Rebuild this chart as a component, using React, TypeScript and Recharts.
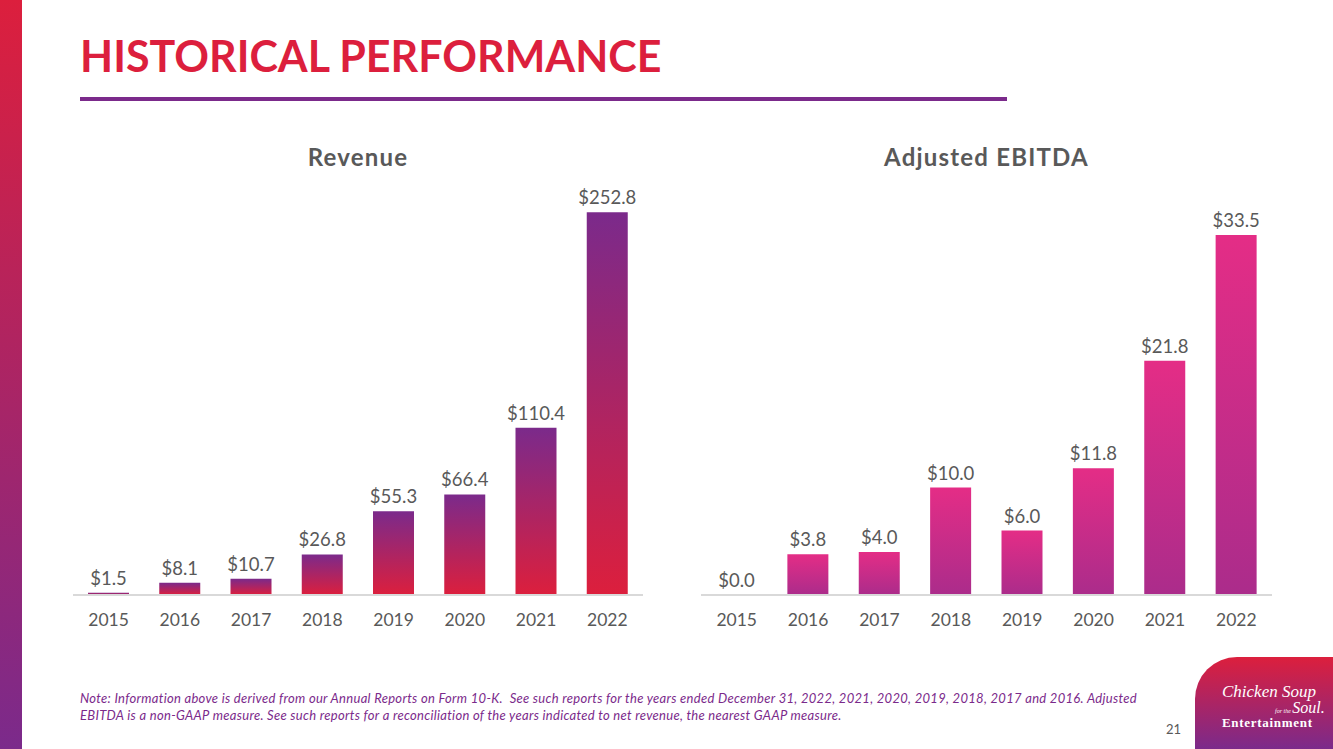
import { BarChart, Bar, XAxis, YAxis, LabelList } from 'recharts'

const years = ['2015', '2016', '2017', '2018', '2019', '2020', '2021', '2022']
const revenue = [1.5, 8.1, 10.7, 26.8, 55.3, 66.4, 110.4, 252.8]
const ebitda = [0.0, 3.8, 4.0, 10.0, 6.0, 11.8, 21.8, 33.5]

const revenueData = years.map((year, i) => ({ year, value: revenue[i] }))
const ebitdaData = years.map((year, i) => ({ year, value: ebitda[i] }))

const RED = '#dc1f3d'
const PURPLE = '#7b2a8b'
const GREY = '#595959'
const FONT = 'Lato, "Open Sans", sans-serif'

const fmt = (v: unknown) => `$${Number(v).toFixed(1)}`

interface PanelProps {
  title: string
  data: { year: string; value: number }[]
  domainMax: number
  gradId: string
  top: string
  bottom: string
  left: number
  width: number
  margin: { top: number; right: number; left: number; bottom: number }
}

function Panel({ title, data, domainMax, gradId, top, bottom, left, width, margin }: PanelProps) {
  return (
    <div style={{ position: 'absolute', left, top: 150, width, height: 490 }}>
      <BarChart width={width} height={490} data={data} margin={margin}>
        <defs>
          <linearGradient id={gradId} x1="0" y1="0" x2="0" y2="1">
            <stop offset="0%" stopColor={top} />
            <stop offset="100%" stopColor={bottom} />
          </linearGradient>
        </defs>
        <XAxis
          dataKey="year"
          tickLine={false}
          axisLine={{ stroke: '#d9d9d9', strokeWidth: 2 }}
          tick={{ fill: GREY, fontSize: 17.5, fontFamily: FONT }}
          tickMargin={13}
          height={30}
          interval={0}
        />
        <YAxis hide domain={[0, domainMax]} />
        <Bar
          dataKey="value"
          fill={`url(#${gradId})`}
          barSize={41}
          // keep a hairline bar for zero values so the $0.0 label still shows
          minPointSize={(v: number) => (v === 0 ? 0.01 : 0)}
          isAnimationActive={false}
        >
          <LabelList
            dataKey="value"
            position="top"
            offset={8}
            formatter={fmt}
            style={{ fill: GREY, fontSize: 18.5, fontFamily: FONT }}
          />
        </Bar>
      </BarChart>
      <div
        style={{
          position: 'absolute',
          top: -8,
          left: margin.left,
          width: width - margin.left - margin.right,
          textAlign: 'center',
          color: GREY,
          fontFamily: FONT,
          fontWeight: 700,
          fontSize: 24,
          letterSpacing: 1.2,
        }}
      >
        {title}
      </div>
    </div>
  )
}

export default function App() {
  return (
    <div
      style={{
        position: 'absolute',
        left: 0,
        top: 0,
        width: 1333,
        height: 749,
        background: '#fff',
        overflow: 'hidden',
        fontFamily: FONT,
      }}
    >
      <div
        style={{
          position: 'absolute',
          left: 0,
          top: 0,
          width: 22,
          height: 749,
          background: `linear-gradient(to bottom, ${RED}, ${PURPLE})`,
        }}
      />
      <div
        style={{
          position: 'absolute',
          left: 80,
          top: 28,
          color: RED,
          fontWeight: 700,
          fontSize: 43,
          lineHeight: '56px',
        }}
      >
        HISTORICAL PERFORMANCE
      </div>
      <div style={{ position: 'absolute', left: 80, top: 97, width: 927, height: 4, background: PURPLE }} />

      <Panel
        title="Revenue"
        data={revenueData}
        domainMax={280}
        gradId="revGrad"
        top={PURPLE}
        bottom={RED}
        left={60}
        width={600}
        margin={{ top: 21, right: 17, left: 13, bottom: 15 }}
      />
      <Panel
        title="Adjusted EBITDA"
        data={ebitdaData}
        domainMax={40}
        gradId="ebitdaGrad"
        top="#e42d86"
        bottom="#ab2c8b"
        left={690}
        width={620}
        margin={{ top: 15, right: 38, left: 11, bottom: 15 }}
      />

      <div
        style={{
          position: 'absolute',
          left: 80,
          top: 690,
          width: 1100,
          color: PURPLE,
          fontStyle: 'italic',
          fontSize: 13,
          letterSpacing: 0.3,
          lineHeight: '17px',
          whiteSpace: 'nowrap',
        }}
      >
        Note: Information above is derived from our Annual Reports on Form 10-K.&nbsp; See such reports for the years ended December 31, 2022, 2021, 2020, 2019, 2018, 2017 and 2016. Adjusted
        <br />
        EBITDA is a non-GAAP measure. See such reports for a reconciliation of the years indicated to net revenue, the nearest GAAP measure.
      </div>
      <div style={{ position: 'absolute', left: 1166, top: 721, color: GREY, fontSize: 13 }}>21</div>

      <div
        style={{
          position: 'absolute',
          left: 1195,
          top: 657,
          width: 138,
          height: 92,
          borderTopLeftRadius: 42,
          background: `linear-gradient(to bottom, ${RED}, ${PURPLE})`,
          color: '#fff',
          fontFamily: '"Liberation Serif", serif',
        }}
      >
        <div style={{ position: 'absolute', left: 27, top: 27, fontSize: 17, fontStyle: 'italic', lineHeight: '16px', whiteSpace: 'nowrap' }}>
          Chicken Soup
        </div>
        <div style={{ position: 'absolute', left: 80, top: 44, fontSize: 16, fontStyle: 'italic', lineHeight: '14px', whiteSpace: 'nowrap' }}>
          <span style={{ fontSize: 6 }}>for the </span>Soul.
        </div>
        <div style={{ position: 'absolute', left: 27, top: 59, fontSize: 13, fontWeight: 700, letterSpacing: 0.7, lineHeight: '14px', whiteSpace: 'nowrap' }}>
          Entertainment
        </div>
      </div>
    </div>
  )
}
